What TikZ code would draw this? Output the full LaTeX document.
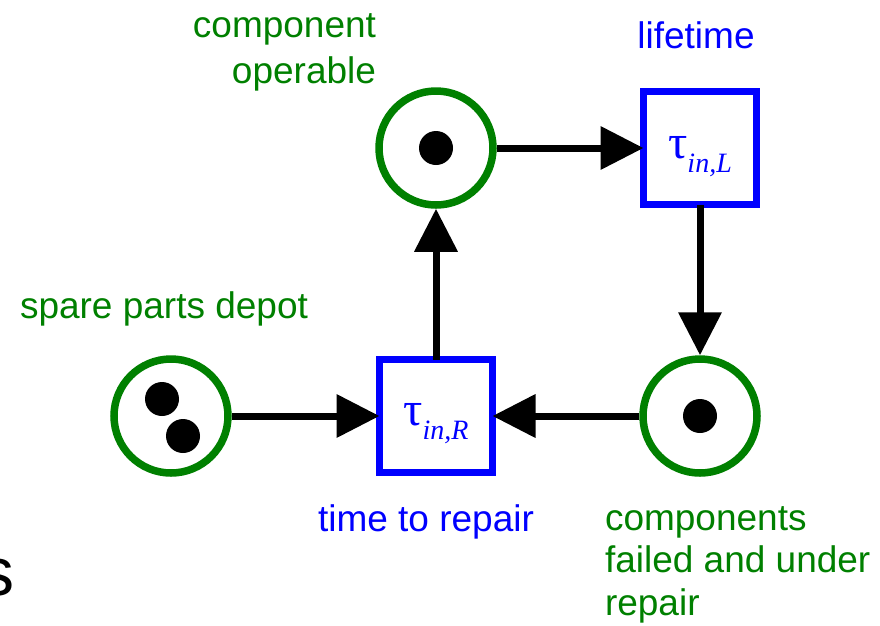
\documentclass[tikz,border=0pt]{standalone}
\usepackage{fontspec}
\setmainfont{Liberation Sans}
\newfontfamily\greekserif{Liberation Serif}
\usetikzlibrary{arrows.meta,calc}
\definecolor{placegreen}{RGB}{0,128,0}
\definecolor{transblue}{RGB}{0,0,255}
\begin{document}
\begin{tikzpicture}[x=1pt,y=-1pt,
  place/.style={circle,draw=placegreen,line width=7.5pt,minimum size=114pt,inner sep=0pt,fill=white},
  transition/.style={rectangle,draw=transblue,line width=7pt,minimum size=113pt,inner sep=0pt,outer sep=0pt,fill=white},
  tokendot/.style={fill=black},
  arc/.style={line width=7pt,-{Triangle[length=43pt,width=42pt]}},
  lbl/.style={font=\fontsize{37}{46}\selectfont,inner sep=0pt,outer sep=0pt},
  placelbl/.style={lbl,text=placegreen},
  translbl/.style={lbl,text=transblue},
  taulbl/.style={inner sep=0pt,outer sep=0pt,text=transblue,font=\greekserif\fontsize{48}{48}\selectfont},
]
\useasboundingbox (0,0) rectangle (880,625);
\clip (0,0) rectangle (880,625);

% places
\node[place] (op)   at (436,148) {};
\node[place] (dep)  at (171,416) {};
\node[place] (fail) at (700,416) {};

% transitions
\node[transition] (life) at (700,148) {};
\node[transition] (rep)  at (436,416) {};

% tokens
\fill[tokendot] (op) circle (17);
\fill[tokendot] (fail) circle (17);
\fill[tokendot] ($(dep)+(-9,-17)$) circle (17);
\fill[tokendot] ($(dep)+(12,20)$) circle (17);

% delay labels inside the transitions
\node[taulbl,anchor=base] (taul) at ($(life)+(0,10)$) {τ\raisebox{-14pt}{\fontsize{28}{28}\selectfont\itshape in,L}};
\node[taulbl,anchor=base] (taur) at ($(rep)+(0,9)$) {τ\raisebox{-14pt}{\fontsize{28}{28}\selectfont\itshape in,R}};

% arcs
\draw[arc] (op) -- (life);
\draw[arc] (life) -- (fail);
\draw[arc] (fail) -- (rep);
\draw[arc] (dep) -- (rep);
\draw[arc] (rep) -- (op);

% text labels (multi-line nodes sit on the baseline of their last line)
\node[placelbl,anchor=base east,align=right] (opl) at (376,83) {component\\operable};
\node[translbl,anchor=base] (lifel) at (696,48) {lifetime};
\node[placelbl,anchor=base west] (depl) at (20,318) {spare parts depot};
\node[translbl,anchor=base west] (repl) at (318,531) {time to repair};
\node[placelbl,anchor=base west,align=left,font=\fontsize{37}{42.5}\selectfont] (faill) at (605,615) {components\\failed and under\\repair};
\node[inner sep=0pt,outer sep=0pt,anchor=base east,font=\fontsize{68}{68}\selectfont] (cut) at (15,595) {s};
\end{tikzpicture}
\end{document}
